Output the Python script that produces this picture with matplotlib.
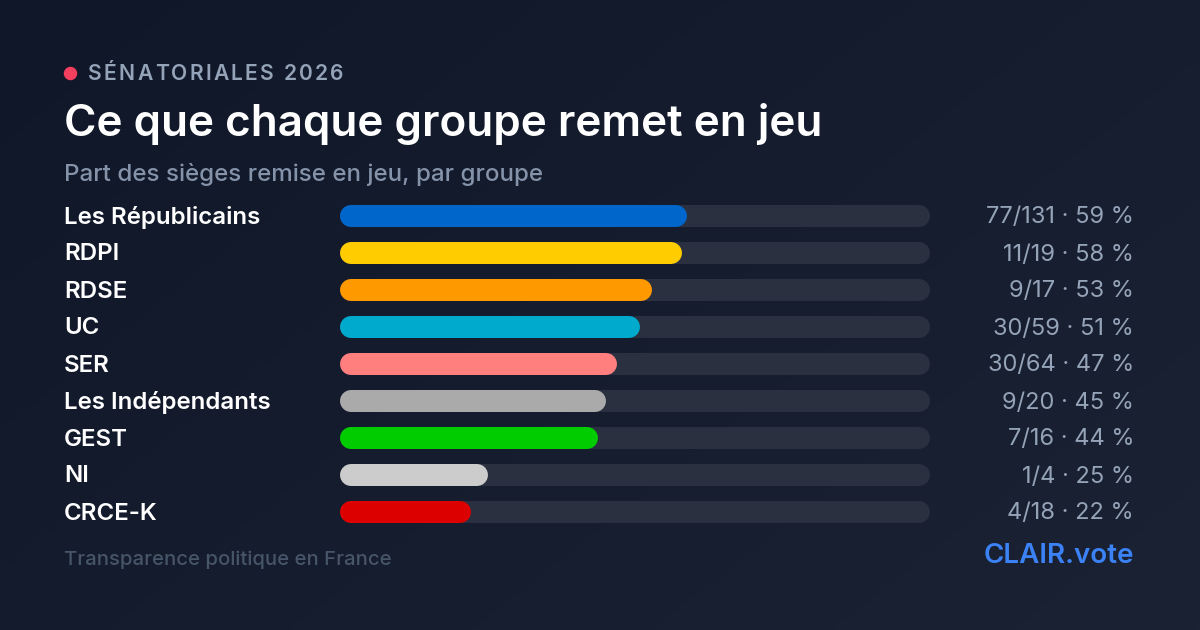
import matplotlib.pyplot as plt
import numpy as np

groups = ["Les Républicains", "RDPI", "RDSE", "UC", "SER",
          "Les Indépendants", "GEST", "NI", "CRCE-K"]
seats_up = [77, 11, 9, 30, 30, 9, 7, 1, 4]
seats_total = [131, 19, 17, 59, 64, 20, 16, 4, 18]
colors = ["#0066CC", "#FFCC00", "#FF9900", "#00AACC", "#FF7F7F",
          "#AAAAAA", "#00CC00", "#CCCCCC", "#DD0000"]

kicker = "SÉNATORIALES 2026"
title = "Ce que chaque groupe remet en jeu"
subtitle = "Part des sièges remise en jeu, par groupe"
footer_left = "Transparence politique en France"
footer_right = "CLAIR.vote"

W, H = 1200, 630
plt.rcParams['font.family'] = ['Inter', 'DejaVu Sans']

fig = plt.figure(figsize=(W / 100, H / 100), dpi=100)

# background with a soft diagonal gradient
bg = fig.add_axes([0, 0, 1, 1])
gx, gy = np.meshgrid(np.linspace(0, 1, 300), np.linspace(0, 1, 160))
t = (gx * 0.6 + gy * 0.4)
c0 = np.array([0x10, 0x17, 0x28]) / 255
c1 = np.array([0x1b, 0x22, 0x33]) / 255
img = c0[None, None, :] * (1 - t[..., None]) + c1[None, None, :] * t[..., None]
bg.imshow(img, extent=[0, W, H, 0], aspect='auto')
bg.set_xlim(0, W)
bg.set_ylim(H, 0)
bg.axis('off')

# header, letter-spaced kicker
bg.scatter([70], [73], s=75, color="#F43F5E", zorder=3)
fig.canvas.draw()
r = fig.canvas.get_renderer()
x = 88
for ch in kicker:
    tx = bg.text(x, 74, ch, color="#94A3B8", fontsize=15.2, fontweight='semibold',
                 va='center')
    w = tx.get_window_extent(renderer=r).width
    if ch == " ":
        w = 5.5
    x += w + 2.2

bg.text(64, 124, title, color="white", fontsize=31.7, fontweight='semibold', va='center')
bg.text(64, 174, subtitle, color="#8593AA", fontsize=17.4, fontweight='medium', va='center')

# bars
share = np.array(seats_up) / np.array(seats_total)
ys = np.arange(len(groups))
bx0, bx1 = 340, 930
row_top, row_step = 216, 37
ax = fig.add_axes([bx0 / W, 1 - (row_top + row_step * 8.5) / H,
                   (bx1 - bx0) / W, row_step * 9 / H])
ax.set_xlim(0, 1)
ax.set_ylim(len(groups) - 0.5, -0.5)
ax.axis('off')
rad = 11 / (bx1 - bx0)
lw = 22 * 72 / 100
ax.hlines(ys, rad, 1 - rad, color="#2A3040", linewidth=lw, capstyle='round')
ax.hlines(ys, rad, share - rad, colors=colors, linewidth=lw, capstyle='round')

for i, g in enumerate(groups):
    yy = row_top + row_step * i + 1.5
    bg.text(64, yy, g, color="white", fontsize=17.3, fontweight='semibold', va='center')
    pct = int(round(share[i] * 100))
    bg.text(1134, yy, f"{seats_up[i]}/{seats_total[i]} · {pct} %", color="#94A3B8",
            fontsize=17, ha='right', va='center')

# footer
bg.text(64, 560, footer_left, color="#475569", fontsize=14.6, fontweight='medium', va='center')
bg.text(1134, 556, footer_right, color="#3B82F6", fontsize=20, fontweight='semibold',
        ha='right', va='center')

fig.savefig("out.png", dpi=100)
